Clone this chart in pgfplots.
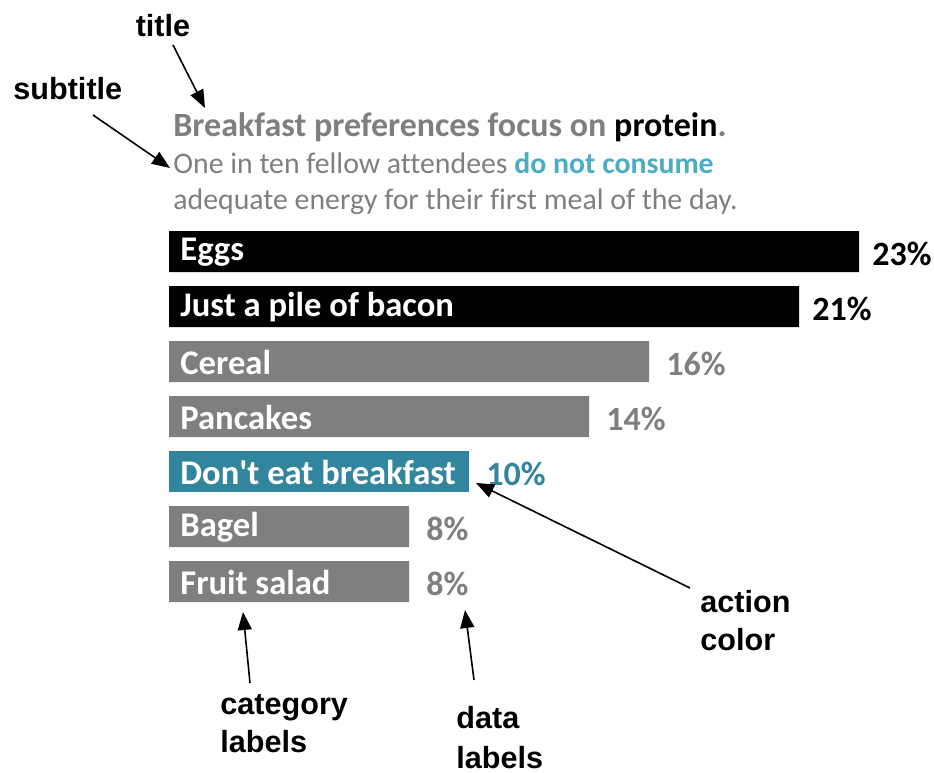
\documentclass[border=0pt]{standalone}
\usepackage{pgfplots}
\pgfplotsset{compat=1.18}
\usepackage{pgfplotstable}
\usepackage{fontspec}
\usetikzlibrary{arrows.meta}
\setmainfont{Carlito}[Ligatures={NoCommon}]
\newfontfamily\annofont{Liberation Sans}
\definecolor{bargray}{HTML}{7F7F7F}
\definecolor{action}{HTML}{31859C}
\definecolor{subaction}{HTML}{4BACC6}

% position (0 = top bar), share in percent
\pgfplotstableread[col sep=comma]{
idx,pct
0,23
1,21
}\blackbars
\pgfplotstableread[col sep=comma]{
idx,pct
2,16
3,14
5,8
6,8
}\graybars
\pgfplotstableread[col sep=comma]{
idx,pct
4,10
}\actionbars
\pgfplotstableread[col sep=comma]{
idx,label
0,Eggs
1,Just a pile of bacon
2,Cereal
3,Pancakes
4,Don\textquotesingle t eat breakfast
5,Bagel
6,Fruit salad
}\cats

\begin{document}
\begin{tikzpicture}
\begin{axis}[
    name=ax,
    width=467pt, height=386pt, scale only axis,
    hide axis, clip=false,
    xmin=-5.6333, xmax=25.5,
    ymin=-4.5727, ymax=9.4636,
    y dir=reverse,
    bar width=20.5pt,
    nodes near coords={\pgfmathprintnumber[assume math mode=true]{\pgfplotspointmeta}\%},
    every node near coord/.append style={
        font=\fontsize{17}{20}\selectfont\bfseries,
        inner sep=0pt, xshift=6.5pt, yshift=-1.2pt},
]
\addplot[xbar, bar shift=0pt, fill=black, draw=none, point meta=x,
    every node near coord/.append style={text=black}]
    table[x=pct, y=idx] {\blackbars};
\addplot[xbar, bar shift=0pt, fill=bargray, draw=none, point meta=x,
    every node near coord/.append style={text=bargray, xshift=2pt}]
    table[x=pct, y=idx] {\graybars};
\addplot[xbar, bar shift=0pt, fill=action, draw=none, point meta=x,
    every node near coord/.append style={text=action, xshift=2pt}]
    table[x=pct, y=idx] {\actionbars};
% category names inside the bars
\addplot[draw=none, mark=none, point meta=explicit symbolic,
    nodes near coords={\pgfplotspointmeta},
    every node near coord/.style={anchor=west, text=white, inner sep=0pt,
        xshift=5.5pt, yshift=-0.5pt, font=\fontsize{17.3}{20}\selectfont\bfseries}]
    table[x expr=0, y=idx, meta=label] {\cats};
\end{axis}

\pgfresetboundingbox
\useasboundingbox (ax.south west) rectangle (ax.north east);

\begin{scope}[shift={(ax.north west)}, x=0.5pt, y=-0.5pt]
  \node[anchor=base west, inner sep=0pt, text=bargray,
        font=\fontsize{17}{20}\selectfont\bfseries]
    at (173,137) {Breakfast preferences focus on \textcolor{black}{protein}.};
  \node[anchor=base west, inner sep=0pt, text=bargray,
        font=\fontsize{14.9}{18}\selectfont]
    at (173,174) {One in ten fellow attendees \textcolor{subaction}{\bfseries do not consume}};
  \node[anchor=base west, inner sep=0pt, text=bargray,
        font=\fontsize{14.9}{18}\selectfont]
    at (173,210) {adequate energy for their first meal of the day.};

  \begin{scope}[font=\annofont\fontsize{15.3}{19}\selectfont\bfseries]
    \node[anchor=base, inner sep=0pt] at (163,37) {title};
    \node[anchor=base west, inner sep=0pt] at (13,100) {subtitle};
    \node[anchor=base west, inner sep=0pt] at (700,612) {action};
    \node[anchor=base west, inner sep=0pt] at (700,650) {color};
    \node[anchor=base west, inner sep=0pt] at (220,714) {category};
    \node[anchor=base west, inner sep=0pt] at (220,752) {labels};
    \node[anchor=base west, inner sep=0pt] at (456,728) {data};
    \node[anchor=base west, inner sep=0pt] at (456,768) {labels};
  \end{scope}

  \begin{scope}[line width=0.8pt, -{Triangle[length=9pt, width=7pt]}]
    \draw (173,45) -- (205,108);
    \draw (93,115) -- (170,168);
    \draw (690,588) -- (476,483);
    \draw (250,683) -- (243,612);
    \draw (474,680) -- (465,610);
  \end{scope}
\end{scope}
\end{tikzpicture}
\end{document}
